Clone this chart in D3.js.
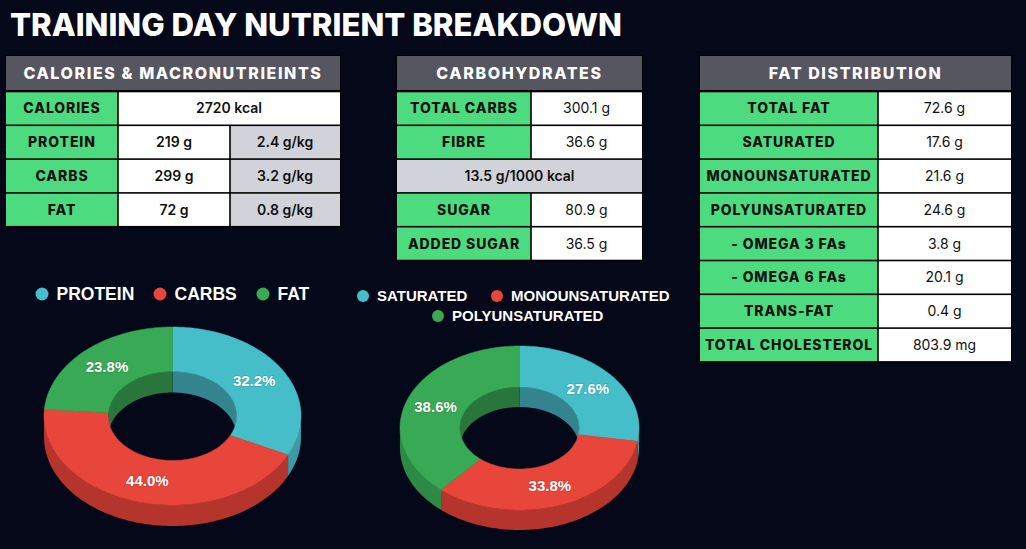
<!DOCTYPE html>
<html lang="en">
<head>
<meta charset="UTF-8">
<title>Training Day Nutrient Breakdown</title>
<script src="https://d3js.org/d3.v7.min.js"></script>
<style>
  html, body { margin: 0; padding: 0; background: #040818; }
  svg { display: block; }
</style>
</head>
<body>
<script>
// ---- data ----
const macroLabels = ["CALORIES", "PROTEIN", "CARBS", "FAT"];
const macroAmounts = ["2720 kcal", "219 g", "299 g", "72 g"];
const macroPerKg = [null, "2.4 g/kg", "3.2 g/kg", "0.8 g/kg"];

const carbLabels = ["TOTAL CARBS", "FIBRE", "SUGAR", "ADDED SUGAR"];
const carbValues = ["300.1 g", "36.6 g", "80.9 g", "36.5 g"];
const fibreDensity = "13.5 g/1000 kcal";

const fatLabels = ["TOTAL FAT", "SATURATED", "MONOUNSATURATED", "POLYUNSATURATED",
  "- OMEGA 3 FAs", "- OMEGA 6 FAs", "TRANS-FAT", "TOTAL CHOLESTEROL"];
const fatValues = ["72.6 g", "17.6 g", "21.6 g", "24.6 g", "3.8 g", "20.1 g", "0.4 g", "803.9 mg"];

const macroNames = ["PROTEIN", "CARBS", "FAT"];
const macroPct = [32.2, 44.0, 23.8];
const fatTypeNames = ["SATURATED", "MONOUNSATURATED", "POLYUNSATURATED"];
const fatTypePct = [27.6, 33.8, 38.6];

// ---- styles ----
const W = 1026, H = 549;
const green = "#4cdc7f", headGray = "#55565f", lightGray = "#d1d2da";
const sliceColors = ["#46bec9", "#e8463a", "#38a954"];
const wallColors = ["#3a9aa5", "#b5342b", "#2d8a44"];
const innerColors = ["#33848e", "#a9322a", "#28763c"];
const tableFont = "Inter, 'Open Sans', sans-serif";
const chartFont = "'Liberation Sans', Arial, sans-serif";

const svg = d3.select("body").append("svg")
  .attr("width", W).attr("height", H);

svg.append("rect").attr("width", W).attr("height", H).attr("fill", "#040818");

// title
const title = svg.append("text")
  .attr("x", 10).attr("y", 36)
  .attr("fill", "#fff")
  .attr("font-family", tableFont)
  .attr("font-weight", 800)
  .attr("font-size", 29)
  .text("TRAINING DAY NUTRIENT BREAKDOWN");
const tw = title.node().getComputedTextLength();
title.attr("font-size", 29 * 612 / tw);

// ---- tables ----
// cols: x edges; rows: array of cells {t, span, fill, weight}
function drawTable(cols, header, rows) {
  const top = 56, headH = 34, pitch = 33.8, gap = 0.8;
  const bodyTop = top + headH + 1.5;
  const g = svg.append("g");
  const y = d3.scaleBand().domain(d3.range(rows.length))
    .range([bodyTop, bodyTop + pitch * rows.length]);

  g.append("rect")
    .attr("x", cols[0] - 1).attr("y", top - 1)
    .attr("width", cols[cols.length - 1] - cols[0] + 2)
    .attr("height", y.range()[1] - top + 2)
    .attr("fill", "#000");

  g.append("rect")
    .attr("x", cols[0]).attr("y", top)
    .attr("width", cols[cols.length - 1] - cols[0])
    .attr("height", headH)
    .attr("fill", headGray);
  g.append("text")
    .attr("x", (cols[0] + cols[cols.length - 1]) / 2)
    .attr("y", top + headH / 2)
    .attr("dy", "0.36em")
    .attr("text-anchor", "middle")
    .attr("fill", "#fff")
    .attr("font-family", tableFont)
    .attr("font-weight", 800)
    .attr("font-size", 16)
    .attr("letter-spacing", 1.6)
    .text(header);

  rows.forEach((row, i) => {
    let c = 0;
    row.forEach(cell => {
      const span = cell.span || 1;
      const x0 = cols[c], x1 = cols[c + span];
      c += span;
      g.append("rect")
        .attr("x", x0 + (x0 === cols[0] ? 0 : gap))
        .attr("y", y(i) + gap)
        .attr("width", x1 - x0 - (x0 === cols[0] ? gap : 2 * gap) + (x1 === cols[cols.length - 1] ? gap : 0))
        .attr("height", y.bandwidth() - 2 * gap)
        .attr("fill", cell.fill);
      g.append("text")
        .attr("x", (x0 + x1) / 2)
        .attr("y", y(i) + y.bandwidth() / 2)
        .attr("dy", "0.36em")
        .attr("text-anchor", "middle")
        .attr("fill", "#111")
        .attr("font-family", tableFont)
        .attr("font-weight", cell.weight)
        .attr("font-size", 14)
        .attr("letter-spacing", cell.ls || 0)
        .text(cell.t);
    });
  });
}

drawTable([6, 118, 230, 340], "CALORIES & MACRONUTRIEINTS",
  macroLabels.map((l, i) => {
    const r = [{ t: l, fill: green, weight: 800, ls: 0.9 }];
    if (macroPerKg[i] === null) {
      r.push({ t: macroAmounts[i], span: 2, fill: "#fff", weight: 600 });
    } else {
      r.push({ t: macroAmounts[i], fill: "#fff", weight: 600 });
      r.push({ t: macroPerKg[i], fill: lightGray, weight: 600 });
    }
    return r;
  }));

const carbRows = carbLabels.map((l, i) => [
  { t: l, fill: green, weight: 800, ls: 0.9 },
  { t: carbValues[i], fill: "#fff", weight: 400 }
]);
carbRows.splice(2, 0, [{ t: fibreDensity, span: 2, fill: lightGray, weight: 600 }]);
drawTable([397, 531, 642], "CARBOHYDRATES", carbRows);

drawTable([700, 878, 1011], "FAT DISTRIBUTION",
  fatLabels.map((l, i) => [
    { t: l, fill: green, weight: 800, ls: 0.9 },
    { t: fatValues[i], fill: "#fff", weight: 400 }
  ]));

// ---- 3D donuts ----
function donut3d(opt) {
  const { cx, cy, rx, ry, depth, inner, values } = opt;
  const arcs = d3.pie().sort(null).value(d => d)(values);
  const g = svg.append("g");
  const pt = (r, a, z) => [cx + r * rx * Math.sin(a), cy - r * ry * Math.cos(a) + z];

  function ring(r, a0, a1, z) {
    const n = Math.max(2, Math.ceil(Math.abs(a1 - a0) / 0.02));
    return d3.range(n + 1).map(k => pt(r, a0 + (a1 - a0) * k / n, z));
  }
  function wallPath(r, a0, a1) {
    const p = d3.path();
    const topPts = ring(r, a0, a1, 0), botPts = ring(r, a1, a0, depth);
    topPts.concat(botPts).forEach((q, k) => k ? p.lineTo(q[0], q[1]) : p.moveTo(q[0], q[1]));
    p.closePath();
    return p.toString();
  }
  function clip(a0, a1, lo, hi) {
    const s = Math.max(a0, lo), e = Math.min(a1, hi);
    return s < e ? [s, e] : null;
  }

  // outer front walls (bottom half of the ellipse)
  arcs.forEach((d, i) => {
    const seg = clip(d.startAngle, d.endAngle, Math.PI / 2, 3 * Math.PI / 2);
    if (seg) g.append("path").attr("d", wallPath(1, seg[0], seg[1])).attr("fill", wallColors[i]);
  });
  // inner back walls (top half of the hole)
  arcs.forEach((d, i) => {
    [[0, Math.PI / 2], [3 * Math.PI / 2, 2 * Math.PI]].forEach(([lo, hi]) => {
      const seg = clip(d.startAngle, d.endAngle, lo, hi);
      if (seg) g.append("path").attr("d", wallPath(inner, seg[0], seg[1])).attr("fill", innerColors[i]);
    });
  });
  // top faces
  arcs.forEach((d, i) => {
    const pts = ring(1, d.startAngle, d.endAngle, 0).concat(ring(inner, d.endAngle, d.startAngle, 0));
    g.append("path")
      .attr("d", d3.line()(pts) + "Z")
      .attr("fill", sliceColors[i])
      .attr("stroke", sliceColors[i]).attr("stroke-width", 0.5);
  });
  // labels
  arcs.forEach(d => {
    const a = (d.startAngle + d.endAngle) / 2;
    const q = pt((1 + inner) / 2, a, 0);
    g.append("text")
      .attr("x", q[0]).attr("y", q[1])
      .attr("dy", "0.36em")
      .attr("text-anchor", "middle")
      .attr("fill", "#fff")
      .attr("font-family", chartFont)
      .attr("font-weight", "bold")
      .attr("font-size", 15)
      .attr("paint-order", "stroke")
      .attr("stroke", "rgba(0,0,0,0.15)").attr("stroke-width", 1.5)
      .text(d.data.toFixed(1) + "%");
  });
}

function legend(items, size, r, y) {
  const g = svg.append("g")
    .attr("font-family", chartFont).attr("font-weight", "bold").attr("font-size", size);
  items.forEach(it => {
    g.append("circle").attr("cx", it.x).attr("cy", y[it.row || 0]).attr("r", r).attr("fill", sliceColors[it.c]);
    g.append("text").attr("x", it.x + r + 8).attr("y", y[it.row || 0]).attr("dy", "0.36em")
      .attr("fill", "#fff").text(it.t);
  });
}

legend(macroNames.map((t, i) => ({ t, c: i, x: [42, 160, 263][i] })), 17.5, 6.5, [294]);
donut3d({ cx: 172.5, cy: 416, rx: 128.5, ry: 89, depth: 21, inner: 0.5, values: macroPct });

legend(fatTypeNames.map((t, i) => ({ t, c: i, x: [363, 497, 438][i], row: i === 2 ? 1 : 0 })), 15, 6, [296, 316]);
donut3d({ cx: 519.5, cy: 428, rx: 119.5, ry: 82, depth: 20, inner: 0.5, values: fatTypePct });
</script>
</body>
</html>
